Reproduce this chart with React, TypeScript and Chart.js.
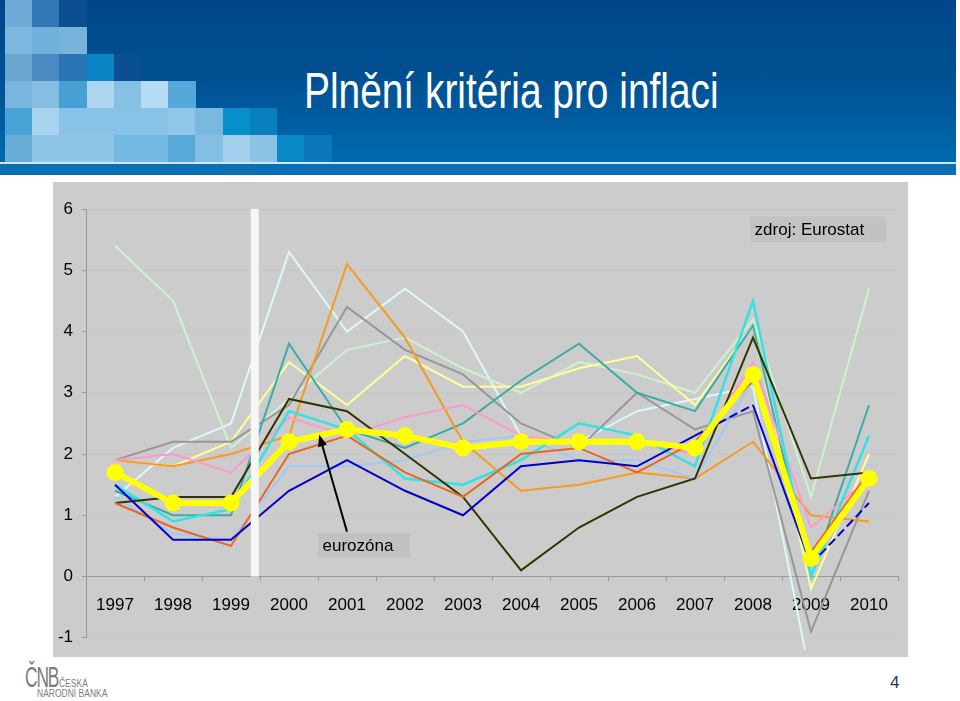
import React, { useEffect, useRef } from 'react';
import { Chart, registerables } from 'chart.js';

Chart.register(...registerables);

// ---------- data ----------
const years = ['1997', '1998', '1999', '2000', '2001', '2002', '2003', '2004', '2005', '2006', '2007', '2008', '2009', '2010'];
const yMin = -1;
const yMax = 6;
const yStep = 1;

const eurozona = [1.7, 1.2, 1.2, 2.2, 2.4, 2.3, 2.1, 2.2, 2.2, 2.2, 2.1, 3.3, 0.3, 1.6];
const belgie = [1.5, 0.9, 1.1, 2.7, 2.4, 1.6, 1.5, 1.9, 2.5, 2.3, 1.8, 4.5, 0.0, 2.3];
const nemecko = [1.5, 0.6, 0.6, 1.4, 1.9, 1.4, 1.0, 1.8, 1.9, 1.8, 2.3, 2.8, 0.2, 1.2];
const irsko = [1.3, 2.1, 2.5, 5.3, 4.0, 4.7, 4.0, 2.3, 2.2, 2.7, 2.9, 3.1, -1.7, -1.6];
const recko = [5.4, 4.5, 2.1, 2.9, 3.7, 3.9, 3.4, 3.0, 3.5, 3.3, 3.0, 4.2, 1.3, 4.7];
const spanelsko = [1.9, 1.8, 2.2, 3.5, 2.8, 3.6, 3.1, 3.1, 3.4, 3.6, 2.8, 4.1, -0.2, 2.0];
const francie = [1.3, 0.7, 0.6, 1.8, 1.8, 1.9, 2.2, 2.3, 1.9, 1.9, 1.6, 3.2, 0.1, 1.7];
const italie = [1.9, 2.0, 1.7, 2.6, 2.3, 2.6, 2.8, 2.3, 2.2, 2.2, 2.0, 3.5, 0.8, 1.6];
const lucembursko = [1.4, 1.0, 1.0, 3.8, 2.4, 2.1, 2.5, 3.2, 3.8, 3.0, 2.7, 4.1, 0.0, 2.8];
const nizozemsko = [1.9, 1.8, 2.0, 2.3, 5.1, 3.9, 2.2, 1.4, 1.5, 1.7, 1.6, 2.2, 1.0, 0.9];
const rakousko = [1.2, 0.8, 0.5, 2.0, 2.3, 1.7, 1.3, 2.0, 2.1, 1.7, 2.2, 3.2, 0.4, 1.7];
const portugalsko = [1.9, 2.2, 2.2, 2.8, 4.4, 3.7, 3.3, 2.5, 2.1, 3.0, 2.4, 2.7, -0.9, 1.4];
const finsko = [1.2, 1.3, 1.3, 2.9, 2.7, 2.0, 1.3, 0.1, 0.8, 1.3, 1.6, 3.9, 1.6, 1.7];

const nemeckoDashedSegments = [10, 12];

// annotations in data space (category index, value)
const bandAt = 2.41;
const bandFrom = 0;
const bandTo = 6;
const sourceNote = { text: 'zdroj: Eurostat', x0: 10.95, x1: 13.29, y0: 5.88, y1: 5.46 };
const euroNote = { text: 'eurozóna', x0: 3.5, x1: 5.09, y0: 0.71, y1: 0.31 };
const arrowFrom = [4.0, 0.73];
const arrowTo = [3.52, 2.32];

const FONT = "'Liberation Sans', Arial, sans-serif";

const overlayPlugin = {
  id: 'overlay',
  afterDatasetsDraw(chart: any) {
    const { ctx } = chart;
    const x = chart.scales.x;
    const y = chart.scales.y;
    ctx.save();
    // white band
    const bx = x.getPixelForValue(bandAt);
    const by0 = y.getPixelForValue(bandTo);
    const by1 = y.getPixelForValue(bandFrom);
    ctx.fillStyle = '#f6f6f6';
    ctx.fillRect(bx - 4, by0, 8, by1 - by0);

    const drawNote = (n: any) => {
      const l = x.getPixelForValue(n.x0);
      const r = x.getPixelForValue(n.x1);
      const t = y.getPixelForValue(n.y0);
      const b = y.getPixelForValue(n.y1);
      ctx.fillStyle = '#c2c2c2';
      ctx.fillRect(l, t, r - l, b - t);
      ctx.fillStyle = '#000';
      ctx.font = `17px ${FONT}`;
      ctx.textBaseline = 'middle';
      ctx.textAlign = 'left';
      ctx.fillText(n.text, l + 4.5, (t + b) / 2 + 1);
    };
    drawNote(sourceNote);
    drawNote(euroNote);

    // arrow
    const ax0 = x.getPixelForValue(arrowFrom[0]);
    const ay0 = y.getPixelForValue(arrowFrom[1]);
    const ax1 = x.getPixelForValue(arrowTo[0]);
    const ay1 = y.getPixelForValue(arrowTo[1]);
    const ang = Math.atan2(ay1 - ay0, ax1 - ax0);
    const hl = 12;
    const hw = 4.5;
    ctx.strokeStyle = '#000';
    ctx.lineWidth = 2;
    ctx.beginPath();
    ctx.moveTo(ax0, ay0);
    ctx.lineTo(ax1 - Math.cos(ang) * hl * 0.8, ay1 - Math.sin(ang) * hl * 0.8);
    ctx.stroke();
    ctx.fillStyle = '#000';
    ctx.beginPath();
    ctx.moveTo(ax1, ay1);
    ctx.lineTo(ax1 - Math.cos(ang) * hl + Math.sin(ang) * hw, ay1 - Math.sin(ang) * hl - Math.cos(ang) * hw);
    ctx.lineTo(ax1 - Math.cos(ang) * hl - Math.sin(ang) * hw, ay1 - Math.sin(ang) * hl + Math.cos(ang) * hw);
    ctx.closePath();
    ctx.fill();
    ctx.restore();
  },
};

const line = (label: string, data: number[], color: string, width = 2, extra: any = {}) => ({
  label,
  data,
  borderColor: color,
  backgroundColor: color,
  borderWidth: width,
  pointRadius: 0,
  fill: false,
  tension: 0,
  clip: { left: 4, top: 4, right: 4, bottom: 12 },
  ...extra,
});

const mosaic: string[][] = [
  ['#6fa9d6', '#2f78b3', '#0b4f92'],
  ['#7db8e0', '#6fb1da', '#79b3dc'],
  ['#68a6d0', '#4a8ac0', '#2a75b3', '#0b84c4', '#0a4e93'],
  ['#78b6df', '#85bee2', '#489fd3', '#aed6f0', '#86c0e4', '#b6dbf2', '#56a8d8'],
  ['#4aa3d6', '#a8d3ef', '#88c2e6', '#88c2e6', '#88c2e6', '#88c2e6', '#90c6e8', '#7ab8e0', '#0590cb', '#0a7fbf'],
  ['#6aaed8', '#8fc5e7', '#8fc5e7', '#8fc5e7', '#74b9e2', '#74b9e2', '#58a9d9', '#84bfe3', '#a4cfec', '#8ac3e5', '#0a88c7', '#0a78ba'],
];

export default function App() {
  const ref = useRef<HTMLCanvasElement | null>(null);

  useEffect(() => {
    if (!ref.current) return;
    const chart = new Chart(ref.current, {
      type: 'line',
      data: {
        labels: years,
        datasets: [
          line('eurozóna', eurozona, '#ffff00', 6, { pointRadius: 8.5, pointBorderWidth: 0, pointBackgroundColor: '#ffff00', pointBorderColor: '#ffff00' }),
          line('Německo', nemecko, '#0000cc', 2, {
            segment: { borderDash: (c: any) => (nemeckoDashedSegments.includes(c.p0DataIndex) ? [9, 4] : undefined) },
          }),
          line('Rakousko', rakousko, '#e8661e'),
          line('Finsko', finsko, '#333300'),
          line('Belgie', belgie, '#33e3e3', 2.5),
          line('Francie', francie, '#a3c8f5'),
          line('Itálie', italie, '#ff99cc'),
          line('Nizozemsko', nizozemsko, '#f59a23'),
          line('Lucembursko', lucembursko, '#3aaca6'),
          line('Portugalsko', portugalsko, '#979797'),
          line('Španělsko', spanelsko, '#ffff99'),
          line('Řecko', recko, '#cdf2cd'),
          line('Irsko', irsko, '#dcf8f8'),
        ],
      },
      options: {
        animation: false,
        responsive: false,
        maintainAspectRatio: false,
        layout: { padding: { left: 0, top: 27, right: 10, bottom: 16 } },
        plugins: { legend: { display: false }, tooltip: { enabled: false } },
        scales: {
          x: {
            type: 'category',
            position: { y: 0 } as any,
            offset: true,
            grid: { offset: true, drawOnChartArea: false, tickLength: 4, color: '#999' },
            border: { color: '#999', width: 1 },
            ticks: { font: { family: FONT, size: 17 }, color: '#000', padding: 15, maxRotation: 0, autoSkip: false },
          },
          y: {
            min: yMin,
            max: yMax,
            afterFit: (s: any) => {
              s.width = 33;
            },
            ticks: { stepSize: yStep, font: { family: FONT, size: 17 }, color: '#000', padding: 9 },
            grid: { color: 'rgba(0,0,0,0.025)', tickColor: '#999', tickLength: 4 },
            border: { color: '#999' },
          },
        },
      },
      plugins: [overlayPlugin],
    });
    return () => chart.destroy();
  }, []);

  return (
    <div style={{ position: 'absolute', left: 0, top: 0, width: 960, height: 701, background: '#fff', overflow: 'hidden', fontFamily: FONT }}>
      {/* header */}
      <div style={{ position: 'absolute', left: 0, top: 0, width: 956, height: 162, background: 'linear-gradient(to bottom, #00478a 0%, #004f91 45%, #006aad 100%)' }} />
      {mosaic.map((row, r) =>
        row.map((c, i) => (
          <div key={`${r}-${i}`} style={{ position: 'absolute', left: 5 + i * 27.2, top: r * 27, width: 27.6, height: 27, background: c }} />
        ))
      )}
      <div style={{ position: 'absolute', left: 0, top: 162, width: 956, height: 2, background: '#cfe6f5' }} />
      <div style={{ position: 'absolute', left: 0, top: 164, width: 956, height: 11, background: '#0a70b5' }} />
      <div
        style={{
          position: 'absolute',
          left: 304,
          top: 66,
          fontSize: 50,
          lineHeight: '50px',
          color: '#fff',
          whiteSpace: 'nowrap',
          transform: 'scaleX(0.777)',
          transformOrigin: 'left top',
        }}
      >
        Plnění kritéria pro inflaci
      </div>

      {/* chart */}
      <div style={{ position: 'absolute', left: 53, top: 182, width: 855, height: 475, background: '#cccccc' }}>
        <canvas ref={ref} width={855} height={475} style={{ width: 855, height: 475, display: 'block' }} />
      </div>

      {/* footer */}
      <div style={{ position: 'absolute', left: 25, top: 661, fontSize: 30, lineHeight: '32px', color: '#7c7c7c', letterSpacing: -2, transform: 'scaleX(0.58)', transformOrigin: 'left top' }}>ČNB</div>
      <div style={{ position: 'absolute', left: 59, top: 679, fontSize: 10, lineHeight: '10px', color: '#7c7c7c', transform: 'scaleX(0.85)', transformOrigin: 'left top' }}>ČESKÁ</div>
      <div style={{ position: 'absolute', left: 37, top: 689, fontSize: 10, lineHeight: '10px', color: '#7c7c7c', transform: 'scaleX(0.85)', transformOrigin: 'left top' }}>NÁRODNÍ BANKA</div>
      <div style={{ position: 'absolute', left: 890, top: 673, fontSize: 17, lineHeight: '20px', color: '#1f3864' }}>4</div>
    </div>
  );
}
